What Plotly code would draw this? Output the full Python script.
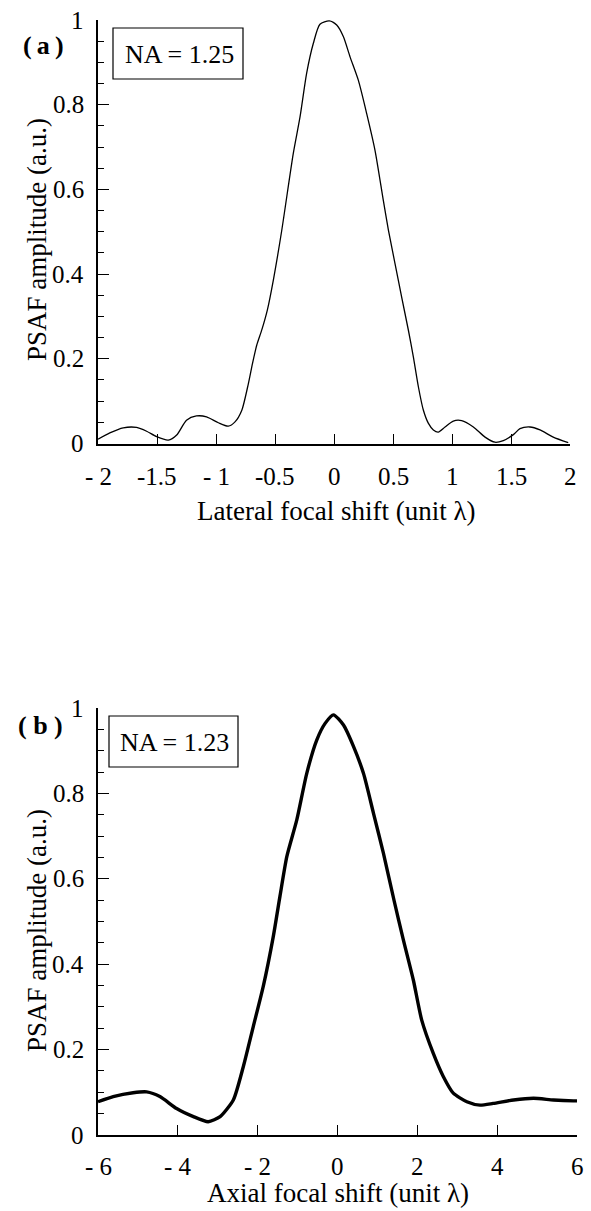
import plotly.graph_objects as go

# ---- data ----
lat_x = [-2.0, -1.9, -1.786, -1.673, -1.588, -1.503, -1.404, -1.333, -1.25, -1.166, -1.08, -0.98,
         -0.896, -0.839, -0.782, -0.726, -0.69, -0.655, -0.61, -0.565, -0.514, -0.443, -0.345,
         -0.288, -0.232, -0.175, -0.119, -0.04, 0.023, 0.079, 0.136, 0.206, 0.277, 0.347, 0.418,
         0.461, 0.517, 0.573, 0.630, 0.672, 0.715, 0.757, 0.799, 0.842, 0.884, 0.941, 1.011,
         1.082, 1.181, 1.28, 1.364, 1.435, 1.52, 1.576, 1.661, 1.746, 1.858, 1.985]
lat_y = [0.01, 0.025, 0.037, 0.038, 0.029, 0.016, 0.008, 0.02, 0.055, 0.065, 0.063, 0.049,
         0.041, 0.051, 0.078, 0.141, 0.19, 0.232, 0.27, 0.315, 0.386, 0.503, 0.685,
         0.771, 0.874, 0.945, 0.99, 0.998, 0.988, 0.961, 0.913, 0.858, 0.779, 0.693, 0.574,
         0.504, 0.425, 0.346, 0.268, 0.205, 0.134, 0.079, 0.048, 0.032, 0.027, 0.039, 0.053,
         0.054, 0.039, 0.015, 0.003, 0.007, 0.021, 0.035, 0.039, 0.032, 0.015, 0.002]

ax_x = [-6.0, -5.62, -5.12, -4.78, -4.45, -4.03, -3.61, -3.24, -2.94, -2.61, -2.36, -2.11,
        -1.86, -1.61, -1.44, -1.27, -1.02, -0.77, -0.52, -0.31, -0.10, 0.15, 0.40, 0.65,
        0.90, 1.15, 1.42, 1.65, 1.90, 2.11, 2.40, 2.65, 2.90, 3.24, 3.57, 3.90, 4.41, 4.91,
        5.41, 5.91, 6.0]
ax_y = [0.078, 0.09, 0.099, 0.101, 0.09, 0.062, 0.043, 0.031, 0.043, 0.082, 0.16, 0.254,
        0.348, 0.464, 0.56, 0.652, 0.738, 0.847, 0.925, 0.964, 0.984, 0.96, 0.91, 0.847,
        0.754, 0.66, 0.548, 0.457, 0.363, 0.269, 0.191, 0.137, 0.098, 0.078, 0.07, 0.074,
        0.082, 0.086, 0.082, 0.08, 0.08]

top_xticks = [-2, -1.5, -1, -0.5, 0, 0.5, 1, 1.5, 2]
top_xticktext = ["- 2", "-1.5", "- 1", "-0.5", "0", "0.5", "1", "1.5", "2"]
bot_xticks = [-6, -4, -2, 0, 2, 4, 6]
bot_xticktext = ["- 6", "- 4", "- 2", "0", "2", "4", "6"]
yticks = [0, 0.2, 0.4, 0.6, 0.8, 1]
yticktext = ["0", "0.2", "0.4", "0.6", "0.8", "1"]

W, H = 591, 1211
FONT = "Liberation Serif"

def px(x):
    return x / W

def py(y):
    return 1 - y / H

fig = go.Figure()
fig.add_trace(go.Scatter(x=lat_x, y=lat_y, mode="lines",
                         line=dict(color="black", width=1.3, shape="spline", smoothing=0.7),
                         xaxis="x", yaxis="y", showlegend=False))
fig.add_trace(go.Scatter(x=ax_x, y=ax_y, mode="lines",
                         line=dict(color="black", width=3.4, shape="spline", smoothing=0.6),
                         xaxis="x2", yaxis="y2", showlegend=False))

common_x = dict(showgrid=False, zeroline=False, showline=True, linecolor="black", linewidth=1.5,
                ticks="inside", ticklen=10, tickwidth=1.3, tickcolor="black",
                showticklabels=False, tickmode="array", automargin=False)
common_y = dict(showgrid=False, zeroline=False, showline=True, linecolor="black", linewidth=1.5,
                ticks="inside", ticklen=11, tickwidth=1.3, tickcolor="black",
                showticklabels=False, tickmode="array", tickvals=yticks, range=[0, 1],
                automargin=False,
                minor=dict(ticks="inside", ticklen=6, tickwidth=1.1, tickcolor="black", dtick=0.05))

fig.update_layout(
    width=W, height=H, margin=dict(l=0, r=0, t=0, b=0, autoexpand=False),
    paper_bgcolor="white", plot_bgcolor="white",
    xaxis=dict(domain=[px(98), px(570)], range=[-2, 2], tickvals=top_xticks,
               anchor="y", **common_x),
    yaxis=dict(domain=[py(443.5), py(20)], anchor="x", **common_y),
    xaxis2=dict(domain=[px(98), px(577)], range=[-6, 6], tickvals=bot_xticks,
                anchor="y2", **common_x),
    yaxis2=dict(domain=[py(1135), py(708)], anchor="x2", **common_y),
)

shapes = [
    dict(type="rect", xref="paper", yref="paper", x0=px(113), x1=px(243), y0=py(79), y1=py(28),
         line=dict(color="black", width=1.2), fillcolor="white", layer="above"),
    dict(type="rect", xref="paper", yref="paper", x0=px(109), x1=px(238), y0=py(767), y1=py(716),
         line=dict(color="black", width=1.2), fillcolor="white", layer="above"),
]
fig.update_layout(shapes=shapes)

def ann(text, x, y, size, angle=0, bold=False):
    return dict(text=("<b>%s</b>" % text) if bold else text, xref="paper", yref="paper",
                x=px(x), y=py(y), xanchor="center", yanchor="middle", showarrow=False,
                textangle=angle, font=dict(family=FONT, size=size, color="black"))

annotations = [
    ann("NA = 1.25", 179, 54, 26),
    ann("NA = 1.23", 174, 742, 26),
    ann("(\u2009a\u2009)", 43, 45, 26, bold=True),
    ann("( b )", 40, 725, 26, bold=True),
    ann("PSAF amplitude (a.u.)", 37, 240, 27, angle=-90),
    ann("PSAF amplitude (a.u.)", 37, 931, 27, angle=-90),
    ann("Lateral focal shift (unit λ)", 336, 511, 27),
    ann("Axial focal shift (unit λ)", 338, 1193, 27),
]
# y tick labels placed through the y axes' own scales
for yref in ("y", "y2"):
    for v, t in zip(yticks, yticktext):
        annotations.append(dict(text=t, xref="paper", yref=yref, x=px(86), y=v,
                                xanchor="right", yanchor="middle", showarrow=False,
                                font=dict(family=FONT, size=25, color="black")))
# x tick labels placed through the x axes' own scales
for xref, vals, texts, ypix in (("x", top_xticks, top_xticktext, 476),
                                ("x2", bot_xticks, bot_xticktext, 1166)):
    for v, t in zip(vals, texts):
        annotations.append(dict(text=t, xref=xref, yref="paper", x=v, y=py(ypix),
                                xanchor="center", yanchor="middle", showarrow=False,
                                font=dict(family=FONT, size=25, color="black")))
fig.update_layout(annotations=annotations)

fig.write_html("out.html")
